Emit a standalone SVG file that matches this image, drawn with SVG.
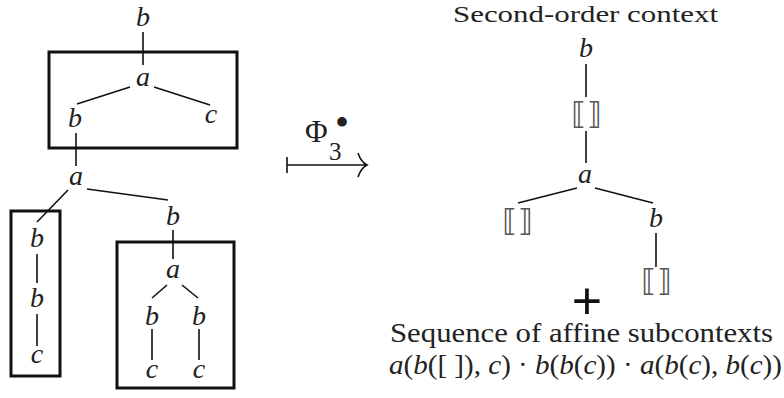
<svg xmlns="http://www.w3.org/2000/svg" width="784" height="398" viewBox="0 0 784 398">
<style>
.v{font-family:"Liberation Serif","DejaVu Serif",serif;font-style:italic;font-size:28px;fill:#222;text-anchor:middle}
.r{font-family:"Liberation Serif","DejaVu Serif",serif;font-size:28px;fill:#222}
.h{font-family:"DejaVu Sans",sans-serif;font-size:30px;fill:#555;text-anchor:middle;letter-spacing:1px}
.e line{stroke:#111;stroke-width:1.6}
.box{fill:none;stroke:#111;stroke-width:3}
</style>
<rect width="784" height="398" fill="#fff"/>
<g id="connectors" class="e">
<line x1="143" y1="32" x2="143" y2="65"/>
<line x1="130" y1="87" x2="77" y2="104"/>
<line x1="154" y1="87" x2="210" y2="105"/>
<line x1="76" y1="133" x2="76" y2="166"/>
<line x1="68" y1="190" x2="37" y2="222"/>
<line x1="87" y1="189" x2="168" y2="200"/>
<line x1="37" y1="254" x2="37" y2="283"/>
<line x1="37" y1="314" x2="37" y2="346"/>
<line x1="173" y1="230" x2="173" y2="259"/>
<line x1="167" y1="285" x2="152" y2="298"/>
<line x1="182" y1="285" x2="198" y2="298"/>
<line x1="152" y1="329" x2="152" y2="360"/>
<line x1="199" y1="329" x2="199" y2="360"/>
<line x1="586" y1="64" x2="586" y2="97"/>
<line x1="586" y1="131" x2="586" y2="163"/>
<line x1="577" y1="188" x2="518" y2="203"/>
<line x1="595" y1="188" x2="653" y2="203"/>
<line x1="656" y1="233" x2="656" y2="267"/>
</g>
<g id="boxes">
<rect id="box1" class="box" x="49" y="52" width="188" height="96"/>
<rect id="box2" class="box" x="11" y="211" width="49" height="165"/>
<rect id="box3" class="box" x="117" y="242" width="117" height="146"/>
</g>
<g id="left-tree">
<g id="n1"><text class="v" x="143" y="26">b</text></g>
<g id="n2"><text class="v" x="143" y="86">a</text></g>
<g id="n3"><text class="v" x="75" y="127">b</text></g>
<g id="n4"><text class="v" x="211" y="123">c</text></g>
<g id="n5"><text class="v" x="76" y="185">a</text></g>
<g id="n6"><text class="v" x="37" y="247">b</text></g>
<g id="n7"><text class="v" x="37" y="307">b</text></g>
<g id="n8"><text class="v" x="37" y="363">c</text></g>
<g id="n9"><text class="v" x="173" y="225">b</text></g>
<g id="n10"><text class="v" x="173" y="278">a</text></g>
<g id="n11"><text class="v" x="152" y="325">b</text></g>
<g id="n12"><text class="v" x="199" y="325">b</text></g>
<g id="n13"><text class="v" x="152" y="378">c</text></g>
<g id="n14"><text class="v" x="199" y="378">c</text></g>
</g>
<g id="map">
<text class="r" x="305" y="142" style="font-size:31px">Φ</text>
<text class="r" x="329" y="160" style="font-size:25px">3</text>
<text class="r" x="342" y="136" style="font-size:40px;text-anchor:middle">•</text>
<path d="M287 157V173M287 165H366M358 153Q361 162 367 165Q361 168 358 177" fill="none" stroke="#111" stroke-width="1.6"/>
</g>
<g id="right-tree">
<g id="title"><text class="r" x="453" y="22" style="font-size:24px" textLength="265" lengthAdjust="spacingAndGlyphs">Second-order context</text></g>
<g id="m1"><text class="v" x="586" y="57">b</text></g>
<g id="m2"><text class="h" x="587" y="124">⟦⟧</text></g>
<g id="m3"><text class="v" x="585" y="183">a</text></g>
<g id="m4"><text class="h" x="518" y="231">⟦⟧</text></g>
<g id="m5"><text class="v" x="656" y="227">b</text></g>
<g id="m6"><text class="h" x="657" y="291">⟦⟧</text></g>
<g id="plus"><text x="587" y="319" font-family="Liberation Sans,sans-serif" font-size="52" text-anchor="middle" fill="#111">+</text></g>
<g id="seq"><text class="r" x="390" y="342" textLength="383" lengthAdjust="spacingAndGlyphs">Sequence of affine subcontexts</text></g>
<g id="formula"><text class="r" x="389" y="374" textLength="393" lengthAdjust="spacingAndGlyphs"><tspan font-style="italic">a</tspan>(<tspan font-style="italic">b</tspan>([ ]), <tspan font-style="italic">c</tspan>) · <tspan font-style="italic">b</tspan>(<tspan font-style="italic">b</tspan>(<tspan font-style="italic">c</tspan>)) · <tspan font-style="italic">a</tspan>(<tspan font-style="italic">b</tspan>(<tspan font-style="italic">c</tspan>), <tspan font-style="italic">b</tspan>(<tspan font-style="italic">c</tspan>))</text></g>
</g>
</svg>
